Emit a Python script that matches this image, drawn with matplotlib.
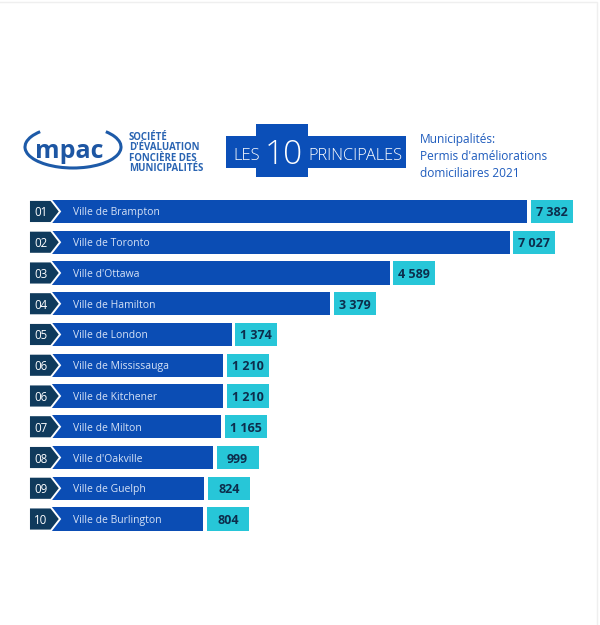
import matplotlib
matplotlib.use('Agg')
import matplotlib.pyplot as plt
from matplotlib.patches import Rectangle, Polygon, Arc

# ---- data ----
ranks = ['01', '02', '03', '04', '05', '06', '06', '07', '08', '09', '10']
cities = ['Ville de Brampton', 'Ville de Toronto', "Ville d'Ottawa", 'Ville de Hamilton',
          'Ville de London', 'Ville de Mississauga', 'Ville de Kitchener', 'Ville de Milton',
          "Ville d'Oakville", 'Ville de Guelph', 'Ville de Burlington']
permits = [7382, 7027, 4589, 3379, 1374, 1210, 1210, 1165, 999, 824, 804]
value_labels = ['7 382', '7 027', '4 589', '3 379', '1 374', '1 210', '1 210', '1 165', '999', '824', '804']

BLUE = '#0b4db4'
DARK = '#0f3a5c'
CYAN = '#27c6d8'
VALTXT = '#0d2d4c'
LBLTXT = '#d6e2f6'
HEADBLUE = '#1f5cbd'
FONT = 'Open Sans'

W, H = 600, 625
fig = plt.figure(figsize=(6, 6.25), dpi=100)
fig.patch.set_facecolor('white')

# ---- bar axes ----
OFFSET = 2744          # label zone in front of each bar (data units)
x0_px, x1_px = 29, 527
top_px, bot_px = 196.1, 534.4
ax = fig.add_axes([x0_px / W, 1 - bot_px / H, (x1_px - x0_px) / W, (bot_px - top_px) / H])
ax.set_xlim(-OFFSET, max(permits))
ax.set_ylim(len(cities) - 0.5, -0.5)
ax.axis('off')
upx = (max(permits) + OFFSET) / (x1_px - x0_px)   # data units per pixel

ys = list(range(len(cities)))
bh = 0.75
ax.barh(ys, [p + OFFSET for p in permits], left=-OFFSET, height=bh, color=BLUE, zorder=1)

for i, (r, c, p, vl) in enumerate(zip(ranks, cities, permits, value_labels)):
    L = -OFFSET
    poly = Polygon([(L, i - bh / 2), (L + 22 * upx, i - bh / 2), (L + 31 * upx, i),
                    (L + 22 * upx, i + bh / 2), (L, i + bh / 2)], closed=True,
                   facecolor=DARK, edgecolor='white', lw=1.4, joinstyle='miter', zorder=2)
    ax.add_patch(poly)
    ax.text(L + 12 * upx, i, r, ha='center', va='center_baseline', color='white',
            fontsize=8.3, family=FONT, zorder=3)
    ax.text(L + 44 * upx, i, c, ha='left', va='center_baseline', color=LBLTXT,
            fontsize=7.5, family=FONT, zorder=3)
    ax.add_patch(Rectangle((p + 3.5 * upx, i - bh / 2), 42 * upx, bh, facecolor=CYAN,
                           edgecolor='none', clip_on=False, zorder=2))
    ax.text(p + 3.5 * upx + 21 * upx, i, vl, ha='center', va='center_baseline', color=VALTXT,
            fontsize=9.0, fontweight='bold', family=FONT, zorder=3, clip_on=False)

# ---- header overlay ----
oax = fig.add_axes([0, 0, 1, 1], zorder=-1)
oax.set_xlim(0, W)
oax.set_ylim(H, 0)
oax.axis('off')

# faint frame
oax.plot([0, 597, 597], [1.5, 1.5, H], color='#efefef', lw=1)

# mpac logo
oax.add_patch(Arc((73, 147), 96, 42, theta1=-25, theta2=205, color='#1d5aa8', lw=2.2))
oax.text(35, 158, 'mpac', ha='left', va='baseline', fontsize=18, fontweight='bold',
         color='#1d56a3', family=FONT)
for txt, yb in zip(['SOCIÉTÉ', "D'ÉVALUATION", 'FONCIÈRE DES', 'MUNICIPALITÉS'],
                   [140, 150.5, 161, 171]):
    oax.text(129, yb, txt, ha='left', va='baseline', fontsize=6.9, fontweight='bold',
             color='#2a64b2', family=FONT)

# "LES 10 PRINCIPALES" badge
oax.add_patch(Rectangle((226, 136), 180, 32, facecolor='#0b4fb8', edgecolor='none'))
oax.add_patch(Rectangle((256, 123.5), 52, 53, facecolor='#0b4fb8', edgecolor='none'))
oax.text(246.5, 159.5, 'LES', ha='center', va='baseline', fontsize=12, color='white',
         family=FONT, fontweight='light')
oax.text(284, 163.5, '10', ha='center', va='baseline', fontsize=24, color='white',
         family=FONT, fontweight='light')
oax.text(355.5, 159.5, 'PRINCIPALES', ha='center', va='baseline', fontsize=11.8,
         color='white', family=FONT, fontweight='light')

# subtitle
for txt, yb in zip(['Municipalités:', "Permis d'améliorations", 'domiciliaires 2021'],
                   [143, 160, 177]):
    oax.text(420, yb, txt, ha='left', va='baseline', fontsize=8.6, color=HEADBLUE,
             family=FONT)

fig.savefig('out.png', dpi=100, facecolor='white')
